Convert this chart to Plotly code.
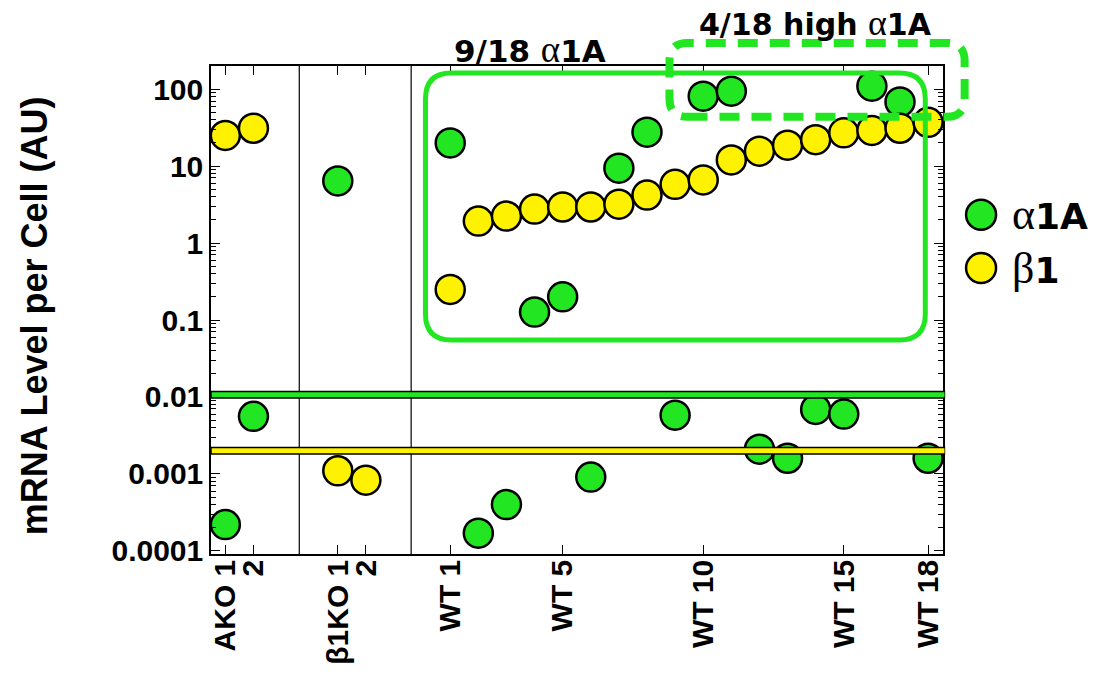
import numpy as np
import plotly.graph_objects as go

# ---------------- data ----------------
sample_x = [0, 1, 4, 5] + list(range(8, 26))
alpha1A = [0.00022, 0.0056, 6.4, None,
           20, 0.00017, 0.0004, 0.127, 0.2, 0.00091, 9.4, 27.6, 0.0058,
           81, 94, 0.0021, 0.0016, 0.0069, 0.006, 109, 68, 0.0016]
beta1 = [25, 31, 0.0011, 0.00083,
         0.25, 1.93, 2.24, 2.76, 2.94, 2.94, 3.2, 4.2, 5.8,
         6.6, 12, 15.6, 18.7, 22, 27, 29, 31, 37]
tick_vals = [0, 1, 4, 5, 8, 12, 17, 22, 25]
tick_text = ["AKO 1", "2", "β1KO 1", "2", "WT 1", "WT 5", "WT 10", "WT 15", "WT 18"]
separators = [2.63, 6.61]
alpha_thr = 0.0107
beta_thr = 0.0020
y_tickvals = [1e-4, 1e-3, 1e-2, 1e-1, 1, 10, 100]
y_ticktext = ["0.0001", "0.001", "0.01", "0.1", "1", "10", "100"]

GREEN = "#22e622"
YELLOW = "#fff200"
XR = [-0.51, 25.53]
YR = [-4.04, 2.30]

def py(v):
    """data value -> paper y"""
    return (np.log10(v) - YR[0]) / (YR[1] - YR[0])

def pxx(x):
    return (x - XR[0]) / (XR[1] - XR[0])

W_PLOT = 732.0
H_PLOT = 488.0

def rounded_rect(x0, x1, y0, y1, r_px):
    a, b = pxx(x0), pxx(x1)
    c, d = py(y0), py(y1)
    rx = r_px / W_PLOT
    ry = r_px / H_PLOT
    return (f"M {a+rx},{c} L {b-rx},{c} Q {b},{c} {b},{c+ry} "
            f"L {b},{d-ry} Q {b},{d} {b-rx},{d} L {a+rx},{d} "
            f"Q {a},{d} {a},{d-ry} L {a},{c+ry} Q {a},{c} {a+rx},{c} Z")

FONT = "Liberation Sans, Arial, sans-serif"
WIDE = "DejaVu Sans"
SERIF = "Liberation Serif"

fig = go.Figure()
fig.add_trace(go.Scatter(
    x=sample_x, y=alpha1A, mode="markers", name="α1A",
    marker=dict(size=29, color=GREEN, line=dict(color="black", width=2.5)),
    cliponaxis=False, showlegend=False))
fig.add_trace(go.Scatter(
    x=sample_x, y=beta1, mode="markers", name="β1",
    marker=dict(size=29, color=YELLOW, line=dict(color="black", width=2.5)),
    cliponaxis=False, showlegend=False))

shapes = []
for s in separators:
    shapes.append(dict(type="line", xref="x", yref="paper", x0=s, x1=s, y0=0, y1=1,
                       line=dict(color="black", width=1.2), layer="below"))
for thr, col in [(alpha_thr, GREEN), (beta_thr, YELLOW)]:
    yy = py(thr)
    shapes.append(dict(type="line", xref="paper", yref="paper", x0=0, x1=1.003, y0=yy, y1=yy,
                       line=dict(color="black", width=8), layer="above"))
    shapes.append(dict(type="line", xref="paper", yref="paper", x0=0.001, x1=1.002, y0=yy, y1=yy,
                       line=dict(color=col, width=5), layer="above"))

# solid box around WT samples
shapes.append(dict(type="path", xref="paper", yref="paper",
                   path=rounded_rect(7.12, 24.9, 0.055, 162, 26), layer="above",
                   line=dict(color=GREEN, width=5)))
# dashed box around high alpha1A
shapes.append(dict(type="path", xref="paper", yref="paper",
                   path=rounded_rect(15.8, 26.3, 43.6, 398, 18), layer="above",
                   line=dict(color=GREEN, width=8, dash="20px,12px")))

# legend (drawn as shapes + text so markers can be large)
leg_x = 1.052
leg_items = [("α1A", GREEN, 0.695), ("β1", YELLOW, 0.586)]
annotations = []
for label, col, ly in leg_items:
    shapes.append(dict(type="circle", xref="paper", yref="paper",
                       xsizemode="pixel", ysizemode="pixel",
                       xanchor=leg_x, yanchor=ly, x0=-15, x1=15, y0=-15, y1=15,
                       fillcolor=col, line=dict(color="black", width=2.5), layer="above"))
    annotations.append(dict(xref="paper", yref="paper", x=1.092, y=ly,
                            xanchor="left", yanchor="middle", showarrow=False,
                            text=f"<span style='font-family:{SERIF};font-weight:normal;font-size:44px'>{label[0]}</span>{label[1:]}",
                            font=dict(family=WIDE, size=36, color="black", weight="bold")))

annotations.append(dict(xref="x", yref="paper", x=10.85, y=1.033, xanchor="center", yanchor="middle",
                        showarrow=False,
                        text=f"9/18 <span style='font-family:{SERIF};font-weight:normal;font-size:37px'>α</span>1A",
                        font=dict(family=WIDE, size=31, color="black", weight="bold")))
annotations.append(dict(xref="x", yref="paper", x=21.0, y=1.088, xanchor="center", yanchor="middle",
                        showarrow=False,
                        text=f"4/18 high <span style='font-family:{SERIF};font-weight:normal;font-size:36px'>α</span>1A",
                        font=dict(family=WIDE, size=30, color="black", weight="bold")))
annotations.append(dict(xref="paper", yref="paper", x=-0.24, y=0.488, xanchor="center", yanchor="middle",
                        showarrow=False, textangle=-90,
                        text="mRNA Level per Cell (AU)",
                        font=dict(family=FONT, size=36, color="black", weight="bold")))

minor_vals = [k * 10.0 ** e for e in range(-4, 3) for k in range(2, 10)]

fig.update_layout(
    width=1105, height=683,
    margin=dict(l=211, r=162, t=66, b=129, autoexpand=False),
    paper_bgcolor="white", plot_bgcolor="white",
    shapes=shapes, annotations=annotations,
    font=dict(family=FONT, color="black"),
)
fig.update_xaxes(range=XR, tickvals=tick_vals, ticktext=tick_text, tickangle=-90,
                 ticks="inside", ticklen=9, tickwidth=1.2, tickcolor="black",
                 showline=True, linecolor="black", linewidth=1.5, mirror="ticks",
                 showgrid=False, zeroline=False, ticklabelstandoff=-8, automargin=False,
                 tickfont=dict(family=FONT, size=30, color="black", weight="bold"))
fig.update_yaxes(type="log", range=YR, tickvals=y_tickvals, ticktext=y_ticktext,
                 ticks="inside", ticklen=9, tickwidth=1.2, tickcolor="black",
                 minor=dict(tickvals=minor_vals, ticks="inside", ticklen=5, tickcolor="black", tickwidth=1),
                 showline=True, linecolor="black", linewidth=1.5, mirror="ticks",
                 showgrid=False, zeroline=False, automargin=False,
                 tickfont=dict(family=FONT, size=30, color="black", weight="bold"))

fig.write_html("out.html")
